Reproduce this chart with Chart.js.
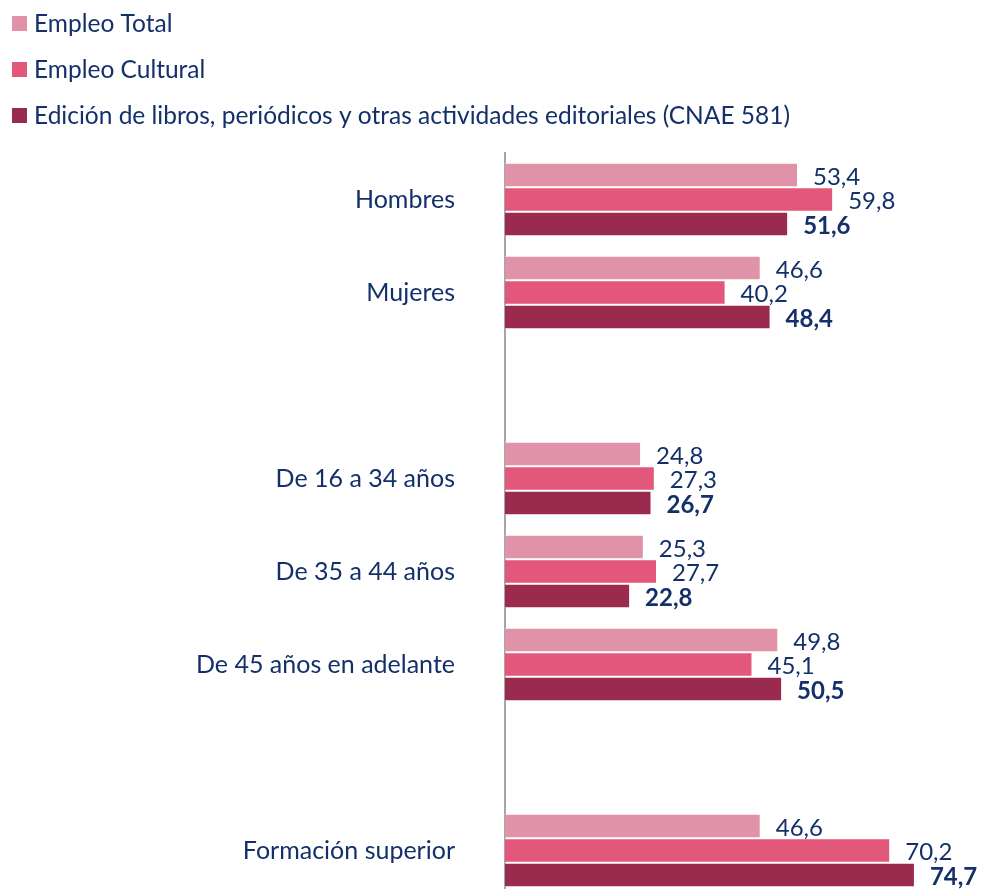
<!DOCTYPE html>
<html>
<head>
<meta charset="utf-8">
<script src="https://cdn.jsdelivr.net/npm/chart.js@4/dist/chart.umd.min.js"></script>
<style>
  html, body { margin: 0; padding: 0; background: #fff; overflow: hidden; }
  canvas { display: block; }
</style>
</head>
<body>
<canvas id="chart" width="982" height="900"></canvas>
<script>
// categorías (las vacías dejan el hueco entre bloques)
const categorias = ['Hombres', 'Mujeres', '', 'De 16 a 34 años', 'De 35 a 44 años', 'De 45 años en adelante', '', 'Formación superior'];

const series = ['Empleo Total', 'Empleo Cultural', 'Edición de libros, periódicos y otras actividades editoriales (CNAE 581)'];
const empleoTotal    = [53.4, 46.6, null, 24.8, 25.3, 49.8, null, 46.6];
const empleoCultural = [59.8, 40.2, null, 27.3, 27.7, 45.1, null, 70.2];
const cnae581        = [51.6, 48.4, null, 26.7, 22.8, 50.5, null, 74.7];

const colores = ['#E093A8', '#E3577A', '#9A2A4E'];
const azul = '#13306B';
const fuente = 'Lato, "Open Sans", sans-serif';

// etiquetas de valor a la derecha de cada barra
const etiquetas = {
  id: 'etiquetas',
  afterDatasetsDraw(chart) {
    const ctx = chart.ctx;
    ctx.save();
    ctx.fillStyle = azul;
    ctx.textAlign = 'left';
    ctx.textBaseline = 'middle';
    chart.data.datasets.forEach((ds, i) => {
      ctx.font = (i === 2 ? 'bold ' : '') + '24px ' + fuente;
      chart.getDatasetMeta(i).data.forEach((el, j) => {
        const v = ds.data[j];
        if (v == null) return;
        ctx.fillText(v.toFixed(1).replace('.', ','), el.x + 15, el.y + 2);
      });
    });
    ctx.restore();
  }
};

// leyenda vertical arriba a la izquierda
const leyenda = {
  id: 'leyenda',
  afterDraw(chart) {
    const ctx = chart.ctx;
    ctx.save();
    ctx.font = '24.5px ' + fuente;
    ctx.textBaseline = 'middle';
    chart.data.datasets.forEach((ds, i) => {
      const y = 23 + i * 46;
      ctx.fillStyle = ds.backgroundColor;
      ctx.fillRect(12, y - 7, 15, 15);
      ctx.fillStyle = azul;
      ctx.fillText(ds.label, 34, y + 1);
    });
    ctx.restore();
  }
};

const datos = [empleoTotal, empleoCultural, cnae581];

new Chart(document.getElementById('chart'), {
  type: 'bar',
  data: {
    labels: categorias,
    datasets: datos.map((d, i) => ({
      label: series[i],
      data: d,
      backgroundColor: colores[i],
      borderColor: 'rgba(255,255,255,0.7)',
      borderWidth: 1,
      categoryPercentage: 0.79,
      barPercentage: 1
    }))
  },
  options: {
    indexAxis: 'y',
    responsive: false,
    animation: false,
    layout: { padding: { top: 153, bottom: 3, left: 0, right: 38 } },
    scales: {
      x: {
        display: false,
        min: 0,
        max: 80
      },
      y: {
        afterFit: s => {
          s.width = 505;
          s.paddingTop = 0;
          s.paddingBottom = 0;
        },
        grid: { display: true, color: 'rgba(0,0,0,0)', drawTicks: false },
        border: { display: true, color: '#A6A6A6', width: 2 },
        ticks: {
          color: azul,
          padding: 50,
          font: { family: fuente, size: 25 }
        }
      }
    },
    plugins: {
      legend: { display: false },
      tooltip: { enabled: false }
    }
  },
  plugins: [etiquetas, leyenda]
});
</script>
</body>
</html>
